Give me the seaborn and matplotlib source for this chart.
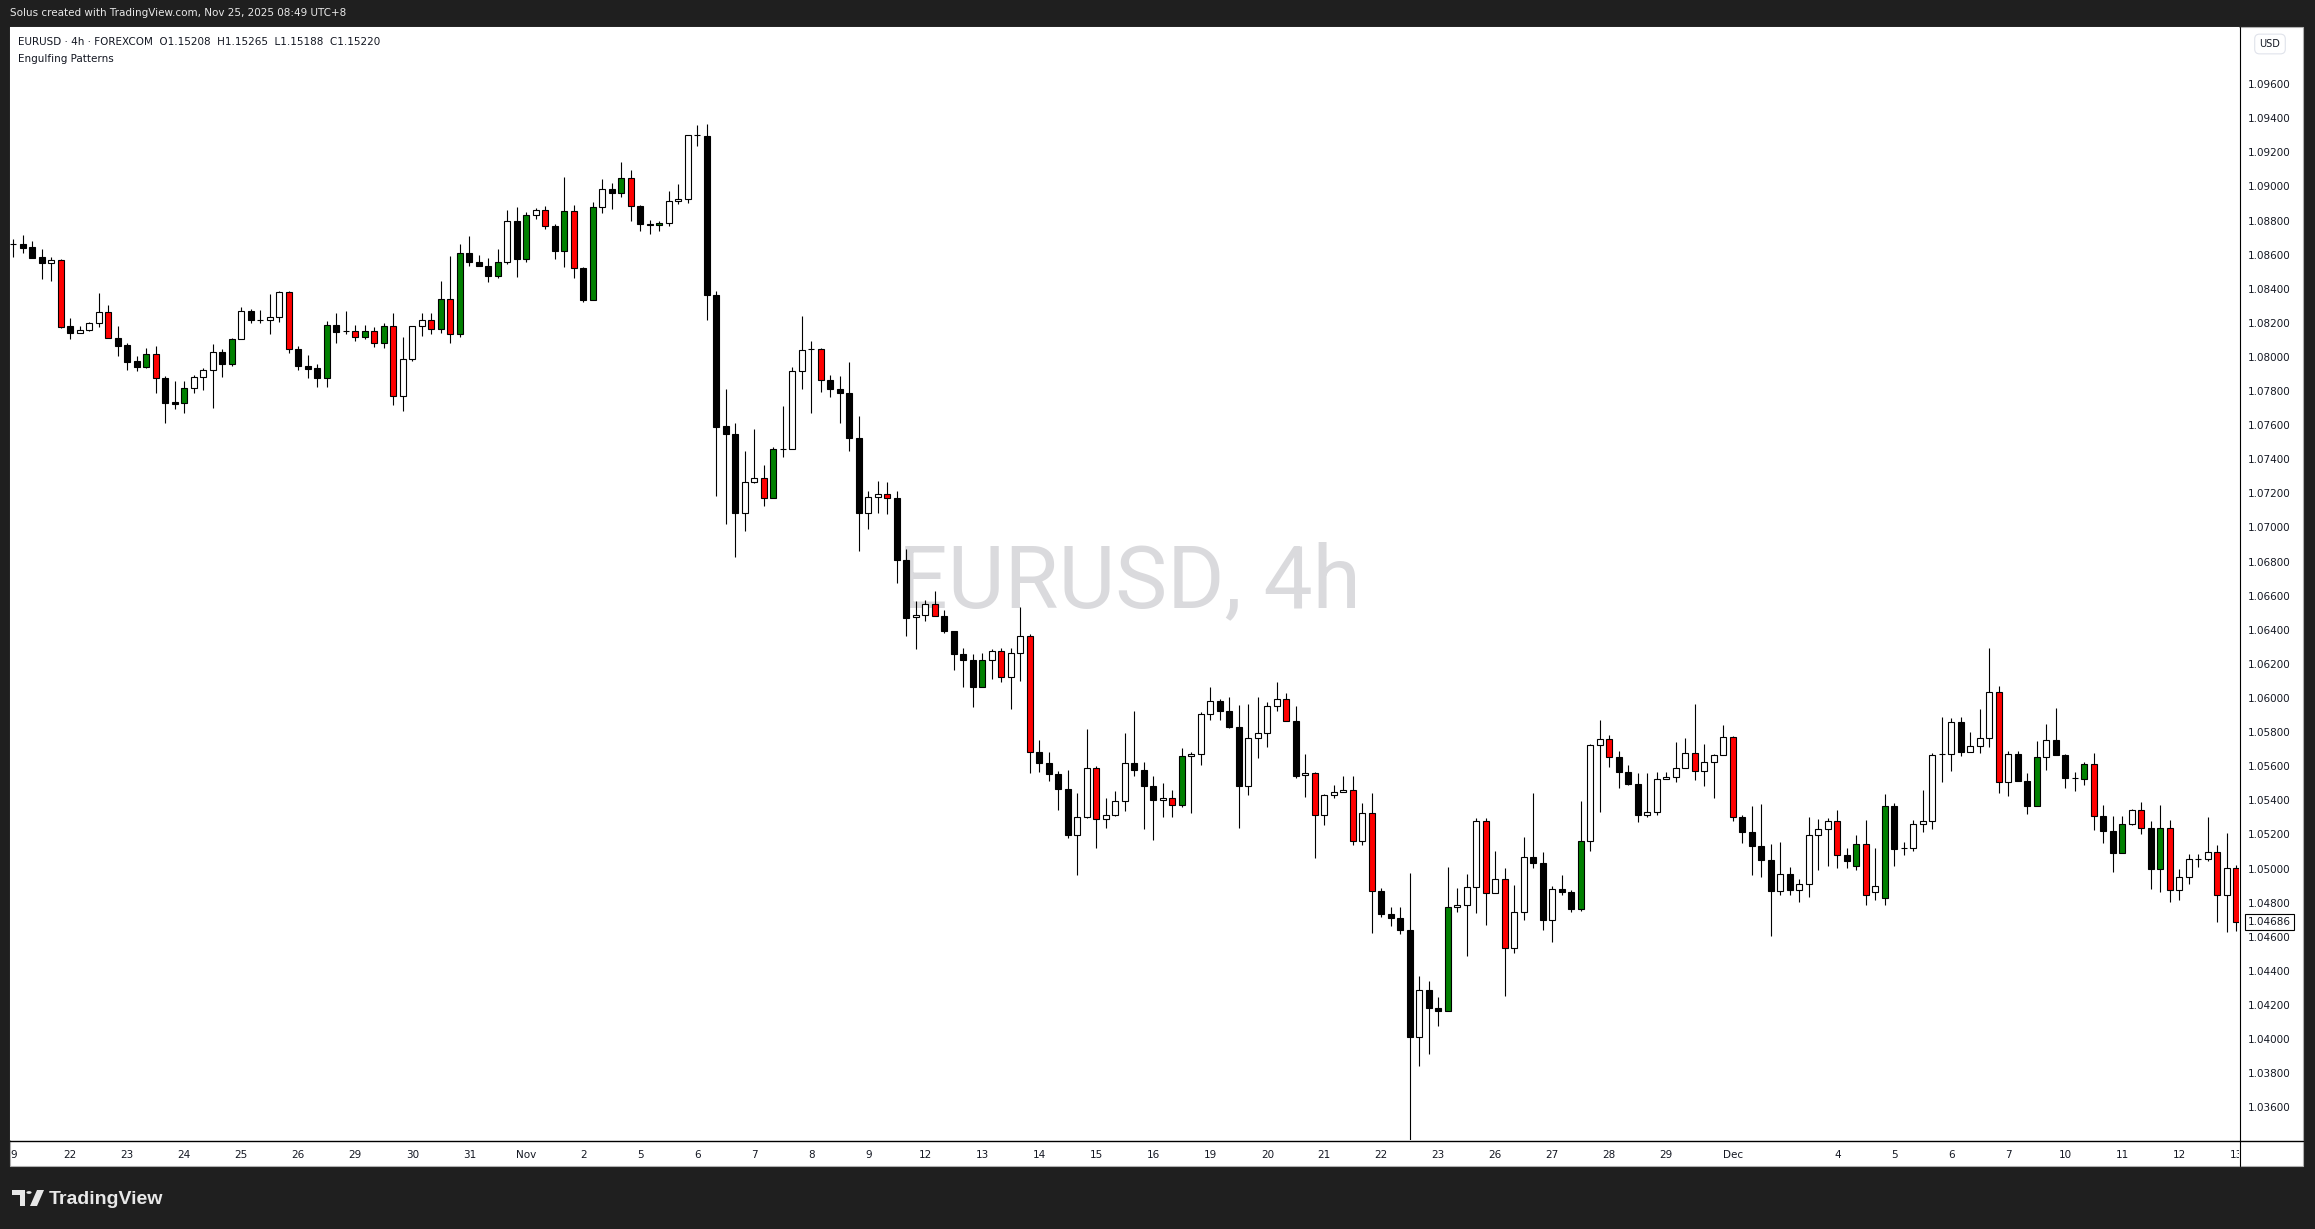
import numpy as np
import pandas as pd
import matplotlib
matplotlib.use("Agg")
import matplotlib.pyplot as plt
from matplotlib.patches import Rectangle, Polygon, Circle
from matplotlib.lines import Line2D
from matplotlib.transforms import Bbox
import seaborn as sns

sns.set_theme(style="white")
plt.rcParams["font.family"] = ["DejaVu Sans"]

# EURUSD 4h candles
opens = [
    1.08663, 1.08663, 1.08643, 1.08585, 1.08550, 1.08567, 1.08180, 1.08143, 1.08157, 1.08198,
    1.08262, 1.08111, 1.08070, 1.07977, 1.07943, 1.08016, 1.07875, 1.07734, 1.07728, 1.07816,
    1.07881, 1.07922, 1.08028, 1.07957, 1.08104, 1.08268, 1.08216, 1.08215, 1.08233, 1.08381,
    1.08045, 1.07947, 1.07936, 1.07875, 1.08186, 1.08152, 1.08151, 1.08116, 1.08151, 1.08080,
    1.08180, 1.07770, 1.07987, 1.08180, 1.08215, 1.08162, 1.08338, 1.08133, 1.08608, 1.08555,
    1.08532, 1.08473, 1.08555, 1.08798, 1.08573, 1.08831, 1.08860, 1.08767, 1.08620, 1.08855,
    1.08520, 1.08333, 1.08878, 1.08984, 1.08960, 1.09048, 1.08884, 1.08778, 1.08772, 1.08784,
    1.08913, 1.08925, 1.09299, 1.09294, 1.08362, 1.07593, 1.07547, 1.07087, 1.07265, 1.07289,
    1.07171, 1.07458, 1.07459, 1.07916, 1.08044, 1.08045, 1.07863, 1.07811, 1.07787, 1.07523,
    1.07083, 1.07177, 1.07195, 1.07171, 1.06808, 1.06473, 1.06485, 1.06550, 1.06479, 1.06391,
    1.06256, 1.06221, 1.06063, 1.06221, 1.06274, 1.06121, 1.06262, 1.06362, 1.05682, 1.05617,
    1.05553, 1.05465, 1.05195, 1.05300, 1.05588, 1.05289, 1.05312, 1.05394, 1.05617, 1.05576,
    1.05482, 1.05400, 1.05412, 1.05371, 1.05658, 1.05670, 1.05904, 1.05981, 1.05922, 1.05828,
    1.05486, 1.05764, 1.05793, 1.05951, 1.05993, 1.05863, 1.05547, 1.05558, 1.05312, 1.05429,
    1.05447, 1.05459, 1.05160, 1.05324, 1.04866, 1.04731, 1.04708, 1.04638, 1.04010, 1.04286,
    1.04180, 1.04163, 1.04773, 1.04784, 1.04890, 1.05277, 1.04855, 1.04937, 1.04532, 1.04743,
    1.05066, 1.05031, 1.04696, 1.04878, 1.04861, 1.04761, 1.05160, 1.05723, 1.05758, 1.05652,
    1.05564, 1.05494, 1.05312, 1.05330, 1.05523, 1.05535, 1.05588, 1.05676, 1.05570, 1.05623,
    1.05664, 1.05770, 1.05300, 1.05212, 1.05130, 1.05048, 1.04866, 1.04966, 1.04872, 1.04907,
    1.05195, 1.05230, 1.05277, 1.05078, 1.05015, 1.05142, 1.04862, 1.04829, 1.05365, 1.05118,
    1.05119, 1.05259, 1.05277, 1.05669, 1.05670, 1.05857, 1.05682, 1.05717, 1.05764, 1.06034,
    1.05506, 1.05670, 1.05512, 1.05365, 1.05652, 1.05752, 1.05664, 1.05530, 1.05523, 1.05611,
    1.05308, 1.05222, 1.05089, 1.05259, 1.05341, 1.05236, 1.04995, 1.05236, 1.04872, 1.04948,
    1.05053, 1.05054, 1.05095, 1.04843, 1.05001,
]
highs = [
    1.08690, 1.08716, 1.08680, 1.08632, 1.08585, 1.08573, 1.08227, 1.08180, 1.08207, 1.08375,
    1.08303, 1.08180, 1.08080, 1.08006, 1.08053, 1.08063, 1.07889, 1.07859, 1.07859, 1.07894,
    1.07936, 1.08076, 1.08045, 1.08111, 1.08292, 1.08282, 1.08276, 1.08370, 1.08389, 1.08385,
    1.08065, 1.08012, 1.07957, 1.08211, 1.08260, 1.08270, 1.08188, 1.08188, 1.08176, 1.08199,
    1.08258, 1.08117, 1.08180, 1.08258, 1.08258, 1.08446, 1.08594, 1.08663, 1.08710, 1.08598,
    1.08581, 1.08633, 1.08862, 1.08880, 1.08850, 1.08874, 1.08886, 1.08780, 1.09056, 1.08892,
    1.08526, 1.08909, 1.09044, 1.09019, 1.09142, 1.09095, 1.08890, 1.08802, 1.08796, 1.08974,
    1.09015, 1.09300, 1.09361, 1.09367, 1.08385, 1.07812, 1.07611, 1.07449, 1.07578, 1.07365,
    1.07474, 1.07713, 1.07941, 1.08240, 1.08094, 1.08050, 1.07893, 1.07889, 1.07969, 1.07654,
    1.07214, 1.07273, 1.07269, 1.07214, 1.06876, 1.06567, 1.06575, 1.06626, 1.06514, 1.06395,
    1.06292, 1.06256, 1.06262, 1.06286, 1.06292, 1.06292, 1.06532, 1.06374, 1.05752, 1.05682,
    1.05570, 1.05576, 1.05441, 1.05816, 1.05600, 1.05412, 1.05453, 1.05793, 1.05922, 1.05623,
    1.05541, 1.05500, 1.05459, 1.05705, 1.05682, 1.05916, 1.06063, 1.05993, 1.06004, 1.05957,
    1.05963, 1.06004, 1.05975, 1.06092, 1.06028, 1.05951, 1.05670, 1.05564, 1.05435, 1.05488,
    1.05541, 1.05541, 1.05382, 1.05441, 1.04884, 1.04773, 1.04773, 1.04972, 1.04368, 1.04339,
    1.04245, 1.05007, 1.04884, 1.04966, 1.05294, 1.05294, 1.05101, 1.05001, 1.04903, 1.05185,
    1.05443, 1.05095, 1.04896, 1.04960, 1.04872, 1.05396, 1.05729, 1.05869, 1.05781, 1.05687,
    1.05605, 1.05558, 1.05558, 1.05564, 1.05564, 1.05740, 1.05764, 1.05963, 1.05729, 1.05670,
    1.05840, 1.05775, 1.05312, 1.05365, 1.05377, 1.05142, 1.05154, 1.05007, 1.04937, 1.05300,
    1.05289, 1.05294, 1.05341, 1.05119, 1.05195, 1.05283, 1.05119, 1.05435, 1.05382, 1.05154,
    1.05283, 1.05459, 1.05676, 1.05887, 1.05881, 1.05887, 1.05799, 1.05934, 1.06292, 1.06069,
    1.05687, 1.05687, 1.05558, 1.05746, 1.05846, 1.05940, 1.05670, 1.05564, 1.05623, 1.05676,
    1.05374, 1.05308, 1.05308, 1.05349, 1.05390, 1.05277, 1.05371, 1.05283, 1.04995, 1.05083,
    1.05083, 1.05300, 1.05136, 1.05207, 1.05019,
]
lows = [
    1.08588, 1.08612, 1.08582, 1.08457, 1.08448, 1.08172, 1.08107, 1.08139, 1.08151, 1.08178,
    1.08110, 1.08008, 1.07925, 1.07920, 1.07937, 1.07791, 1.07611, 1.07693, 1.07670, 1.07791,
    1.07806, 1.07703, 1.07885, 1.07949, 1.08104, 1.08201, 1.08201, 1.08137, 1.08207, 1.08025,
    1.07925, 1.07875, 1.07822, 1.07822, 1.08084, 1.08137, 1.08096, 1.08104, 1.08060, 1.08054,
    1.07720, 1.07685, 1.07978, 1.08125, 1.08133, 1.08139, 1.08080, 1.08116, 1.08536, 1.08532,
    1.08442, 1.08465, 1.08544, 1.08467, 1.08555, 1.08808, 1.08753, 1.08573, 1.08526, 1.08462,
    1.08321, 1.08333, 1.08846, 1.08870, 1.08937, 1.08799, 1.08741, 1.08723, 1.08741, 1.08770,
    1.08896, 1.08901, 1.09239, 1.08215, 1.07187, 1.07022, 1.06825, 1.06981, 1.07259, 1.07128,
    1.07171, 1.07412, 1.07459, 1.07811, 1.07670, 1.07793, 1.07764, 1.07611, 1.07447, 1.06864,
    1.06993, 1.07083, 1.07077, 1.06676, 1.06365, 1.06286, 1.06453, 1.06479, 1.06380, 1.06163,
    1.06063, 1.05946, 1.06063, 1.06110, 1.06092, 1.05934, 1.06098, 1.05558, 1.05564, 1.05512,
    1.05341, 1.05177, 1.04960, 1.05294, 1.05119, 1.05236, 1.05306, 1.05336, 1.05541, 1.05230,
    1.05165, 1.05300, 1.05300, 1.05359, 1.05324, 1.05605, 1.05869, 1.05869, 1.05822, 1.05236,
    1.05433, 1.05650, 1.05711, 1.05922, 1.05863, 1.05529, 1.05418, 1.05063, 1.05253, 1.05412,
    1.05447, 1.05136, 1.05136, 1.04620, 1.04714, 1.04661, 1.04614, 1.03250, 1.03843, 1.03914,
    1.04078, 1.04163, 1.04743, 1.04485, 1.04737, 1.04667, 1.04855, 1.04251, 1.04506, 1.04696,
    1.05001, 1.04638, 1.04567, 1.04843, 1.04743, 1.04749, 1.05101, 1.05330, 1.05594, 1.05471,
    1.05488, 1.05271, 1.05300, 1.05312, 1.05523, 1.05506, 1.05588, 1.05517, 1.05482, 1.05412,
    1.05664, 1.05277, 1.05148, 1.04960, 1.04949, 1.04602, 1.04843, 1.04843, 1.04802, 1.04831,
    1.04991, 1.05015, 1.05003, 1.05003, 1.04991, 1.04786, 1.04815, 1.04786, 1.05015, 1.05078,
    1.05101, 1.05212, 1.05230, 1.05506, 1.05570, 1.05658, 1.05682, 1.05676, 1.05711, 1.05441,
    1.05424, 1.05512, 1.05318, 1.05365, 1.05576, 1.05664, 1.05471, 1.05453, 1.05488, 1.05226,
    1.05151, 1.04981, 1.05089, 1.05253, 1.05201, 1.04878, 1.04864, 1.04802, 1.04814, 1.04907,
    1.05007, 1.05042, 1.04688, 1.04629, 1.04635,
]
closes = [
    1.08665, 1.08641, 1.08582, 1.08550, 1.08567, 1.08178, 1.08143, 1.08157, 1.08198, 1.08262,
    1.08110, 1.08066, 1.07972, 1.07943, 1.08016, 1.07875, 1.07732, 1.07726, 1.07816, 1.07881,
    1.07922, 1.08028, 1.07957, 1.08104, 1.08268, 1.08215, 1.08214, 1.08233, 1.08381, 1.08045,
    1.07945, 1.07931, 1.07875, 1.08186, 1.08148, 1.08150, 1.08116, 1.08151, 1.08080, 1.08180,
    1.07770, 1.07987, 1.08180, 1.08215, 1.08162, 1.08338, 1.08133, 1.08608, 1.08555, 1.08532,
    1.08473, 1.08555, 1.08798, 1.08573, 1.08831, 1.08860, 1.08767, 1.08620, 1.08855, 1.08520,
    1.08333, 1.08878, 1.08984, 1.08960, 1.09048, 1.08884, 1.08778, 1.08772, 1.08784, 1.08913,
    1.08927, 1.09300, 1.09301, 1.08362, 1.07591, 1.07547, 1.07087, 1.07265, 1.07289, 1.07171,
    1.07459, 1.07460, 1.07916, 1.08039, 1.08046, 1.07863, 1.07811, 1.07787, 1.07523, 1.07083,
    1.07177, 1.07195, 1.07171, 1.06808, 1.06471, 1.06485, 1.06550, 1.06479, 1.06391, 1.06256,
    1.06221, 1.06063, 1.06221, 1.06274, 1.06121, 1.06262, 1.06362, 1.05682, 1.05617, 1.05553,
    1.05465, 1.05195, 1.05300, 1.05588, 1.05289, 1.05312, 1.05394, 1.05617, 1.05576, 1.05482,
    1.05400, 1.05412, 1.05371, 1.05658, 1.05670, 1.05904, 1.05981, 1.05922, 1.05828, 1.05486,
    1.05764, 1.05793, 1.05951, 1.05993, 1.05863, 1.05544, 1.05558, 1.05312, 1.05429, 1.05447,
    1.05459, 1.05160, 1.05324, 1.04866, 1.04731, 1.04708, 1.04638, 1.04010, 1.04286, 1.04180,
    1.04163, 1.04773, 1.04784, 1.04890, 1.05277, 1.04855, 1.04937, 1.04532, 1.04743, 1.05066,
    1.05031, 1.04696, 1.04878, 1.04861, 1.04761, 1.05160, 1.05723, 1.05758, 1.05652, 1.05564,
    1.05494, 1.05312, 1.05330, 1.05523, 1.05535, 1.05588, 1.05676, 1.05570, 1.05623, 1.05664,
    1.05770, 1.05300, 1.05212, 1.05130, 1.05048, 1.04866, 1.04966, 1.04872, 1.04907, 1.05195,
    1.05230, 1.05277, 1.05078, 1.05044, 1.05142, 1.04845, 1.04897, 1.05365, 1.05113, 1.05120,
    1.05259, 1.05277, 1.05664, 1.05671, 1.05857, 1.05682, 1.05717, 1.05764, 1.06034, 1.05506,
    1.05670, 1.05512, 1.05365, 1.05652, 1.05752, 1.05664, 1.05529, 1.05528, 1.05611, 1.05306,
    1.05222, 1.05089, 1.05259, 1.05341, 1.05236, 1.04995, 1.05236, 1.04872, 1.04948, 1.05054,
    1.05055, 1.05095, 1.04843, 1.05001, 1.04686,
]
# w = plain up, b = plain down, g = bullish engulfing, r = bearish engulfing
kinds = list(
    "wbbbwrbwww" "rbbbgrbbgw" "wwbgwbbwwr" "bbbgbbrgrg" "rwwwrgrgbb"
    "bgwbgwrbgr" "bgwbgrbbgw" "wwwbbbbwwr" "gwwwwrbbbb" "wwrbbwwrbb"
    "bbgwrwwrbb" "bbwwrwwwbb" "bwrgwwwbbb" "wwwwrbwrww" "wrwrbbbbwb"
    "bgwwwrwrww" "bbwbbgwwrb" "bbwwwwwrww" "wrbbbbwbww" "wwrbgrwgbw"
    "wwwwwbwwwr" "wbbgwbbbgr" "bbgwrbgrww" "wwrwr"
)
tick_pos = [0, 6, 12, 18, 24, 30, 36, 42, 48, 54, 60, 66, 72, 78, 84, 90, 96, 102, 108, 114,
            120, 126, 132, 138, 144, 150, 156, 162, 168, 174, 181, 192, 198, 204, 210, 216,
            222, 228, 234]
tick_labels = ["9", "22", "23", "24", "25", "26", "29", "30", "31", "Nov", "2", "5", "6", "7",
               "8", "9", "12", "13", "14", "15", "16", "19", "20", "21", "22", "23", "26", "27",
               "28", "29", "Dec", "4", "5", "6", "7", "10", "11", "12", "13"]
price_ticks = [1.036, 1.038, 1.040, 1.042, 1.044, 1.046, 1.048, 1.050, 1.052, 1.054, 1.056,
               1.058, 1.060, 1.062, 1.064, 1.066, 1.068, 1.070, 1.072, 1.074, 1.076, 1.078,
               1.080, 1.082, 1.084, 1.086, 1.088, 1.090, 1.092, 1.094, 1.096]
last_price = 1.04686

df = pd.DataFrame({"open": opens, "high": highs, "low": lows, "close": closes, "kind": kinds})
df["x"] = np.arange(len(df))
palette = {"w": "#ffffff", "b": "#000000", "g": "#008000", "r": "#ff0000"}

W, H = 2315, 1229
BG = "#1f1f1f"
fig = plt.figure(figsize=(W / 100, H / 100), dpi=100, facecolor=BG)


def fx(px):
    return px / W


def fy(py):
    return 1 - py / H


# white chart panel
fig.patches.append(Rectangle((fx(10), fy(1166)), fx(2303) - fx(10), fy(27) - fy(1166),
                             transform=fig.transFigure, facecolor="white",
                             edgecolor="#b0b0b0", linewidth=0.8, zorder=-5))

ax = fig.add_axes([fx(10), fy(1140), fx(2239) - fx(10), fy(27) - fy(1140)])
ax.set_facecolor("white")

# candles
ax.vlines(df["x"], df["low"], df["high"], color="black", linewidth=0.8, zorder=2)
body_low = np.minimum(df["open"], df["close"])
body_h = np.maximum((df["close"] - df["open"]).abs(), 0.000005)
ax.bar(df["x"], body_h, bottom=body_low, width=0.66,
       color=[palette[k] for k in df["kind"]], edgecolor="black", linewidth=0.8, zorder=3)

ax.set_xlim(-0.35, 234.28)
ax.set_ylim(1.03408, 1.09935)

# watermark
ax.text(0.502, 0.5, "EURUSD, 4h", transform=ax.transAxes, ha="center", va="center",
        fontsize=63, color="#dadadd", family=["Roboto", "DejaVu Sans"], zorder=1)

for s in ["top", "left", "bottom", "right"]:
    ax.spines[s].set_visible(False)

ax.set_xticks(tick_pos)
ax.set_xticklabels(tick_labels)
ax.tick_params(axis="x", length=0, pad=7, labelsize=7.5, labelcolor="#131722")
ax.yaxis.tick_right()
ax.set_yticks(price_ticks)
ax.set_yticklabels([f"{p:.5f}" for p in price_ticks])
ax.tick_params(axis="y", length=0, pad=6.5, labelsize=7.5, labelcolor="#131722")
ax.grid(False)

# time labels are hidden behind the price scale, as in the app
time_clip = Bbox.from_extents(10, 0, 2239, H)
for lbl in ax.get_xticklabels():
    lbl.set_clip_on(True)
    lbl.set_clip_box(time_clip)

# axis separator lines
fig.lines.append(Line2D([fx(10), fx(2303)], [fy(1140.5), fy(1140.5)], transform=fig.transFigure,
                        color="black", linewidth=1.0))
fig.lines.append(Line2D([fx(2239.5), fx(2239.5)], [fy(27), fy(1166)], transform=fig.transFigure,
                        color="black", linewidth=0.8))

# last price label
ax.annotate(f"{last_price:.5f}", xy=(1.0, last_price), xycoords=("axes fraction", "data"),
            xytext=(9, 0), textcoords="offset pixels", ha="left", va="center", fontsize=7.5,
            color="#131722", annotation_clip=False,
            bbox=dict(boxstyle="square,pad=0.25", facecolor="white", edgecolor="black", linewidth=0.8))

# currency badge
fig.text(fx(2270), fy(44), "USD", ha="center", va="center", fontsize=7, color="#131722",
         bbox=dict(boxstyle="round,pad=0.5", facecolor="white", edgecolor="#e0e3eb", linewidth=0.8))

# header texts
fig.text(fx(10), fy(13), "Solus created with TradingView.com, Nov 25, 2025 08:49 UTC+8",
         ha="left", va="center", fontsize=7.5, color="#e8e8e8")
fig.text(fx(18), fy(42), "EURUSD · 4h · FOREXCOM  O1.15208  H1.15265  L1.15188  C1.15220",
         ha="left", va="center", fontsize=7.5, color="#131722")
fig.text(fx(18), fy(59), "Engulfing Patterns", ha="left", va="center", fontsize=7.5, color="#131722")

# TradingView logo in the footer
logo = "#e8e8e8"
fig.patches.append(Polygon([(fx(12), fy(1190)), (fx(25), fy(1190)), (fx(25), fy(1206)),
                            (fx(20), fy(1206)), (fx(20), fy(1195)), (fx(12), fy(1195))],
                           closed=True, transform=fig.transFigure, facecolor=logo, edgecolor="none"))
fig.patches.append(Circle((fx(29), fy(1192.5)), 2.6 / W, transform=fig.transFigure,
                          facecolor=logo, edgecolor="none"))
fig.patches.append(Polygon([(fx(37), fy(1190)), (fx(44), fy(1190)), (fx(37), fy(1206)),
                            (fx(30), fy(1206))],
                           closed=True, transform=fig.transFigure, facecolor=logo, edgecolor="none"))
fig.text(fx(49), fy(1199), "TradingView", ha="left", va="center", fontsize=14,
         fontweight="bold", color=logo, family=["Liberation Sans", "DejaVu Sans"])

fig.savefig("out.png", dpi=100, facecolor=fig.get_facecolor())
